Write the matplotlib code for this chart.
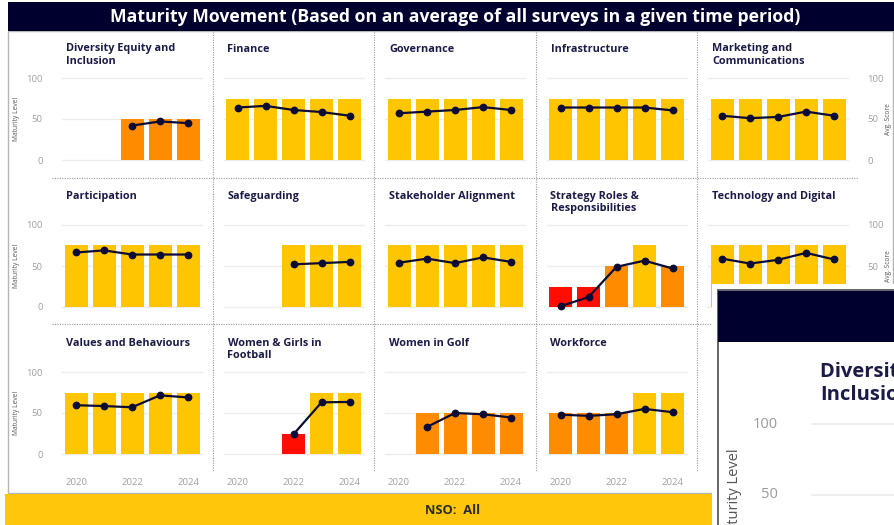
import numpy as np
import matplotlib.pyplot as plt
from matplotlib.patches import Rectangle

plt.rcParams['font.family'] = ['Open Sans', 'DejaVu Sans']

W, H = 894, 525
nan = np.nan

years = [2020, 2021, 2022, 2023, 2024]
year_ticks = [2020, 2022, 2024]

# maturity level (bars) and average score (line) per year
dei_level = [nan, nan, 50, 50, 50]
dei_score = [nan, nan, 42, 47, 45]
finance_level = [75, 75, 75, 75, 75]
finance_score = [64, 66, 61, 58.5, 54]
governance_level = [75, 75, 75, 75, 75]
governance_score = [57, 59, 61, 64.5, 61]
infrastructure_level = [75, 75, 75, 75, 75]
infrastructure_score = [64, 64, 64, 64, 60.5]
marketing_level = [75, 75, 75, 75, 75]
marketing_score = [54, 51, 52.5, 59, 54]
participation_level = [75, 75, 75, 75, 75]
participation_score = [66.5, 69, 64, 64, 64]
safeguarding_level = [nan, nan, 75, 75, 75]
safeguarding_score = [nan, nan, 52, 53.5, 55]
stakeholder_level = [75, 75, 75, 75, 75]
stakeholder_score = [54, 59, 53.5, 60.5, 55]
strategy_level = [25, 25, 50, 75, 50]
strategy_score = [1, 12, 49, 56.5, 47]
technology_level = [75, 75, 75, 75, 75]
technology_score = [59, 53, 57.5, 66, 58]
values_level = [75, 75, 75, 75, 75]
values_score = [59.5, 58.5, 57, 71.5, 69]
wgf_level = [nan, nan, 25, 75, 75]
wgf_score = [nan, nan, 24, 63, 63.5]
golf_level = [nan, 50, 50, 50, 50]
golf_score = [nan, 33, 50, 48.5, 44.5]
workforce_level = [50, 50, 50, 75, 75]
workforce_score = [48, 46.5, 48.5, 55, 51]

panels = [
    ("Diversity Equity and\nInclusion", dei_level, dei_score),
    ("Finance", finance_level, finance_score),
    ("Governance", governance_level, governance_score),
    ("Infrastructure", infrastructure_level, infrastructure_score),
    ("Marketing and\nCommunications", marketing_level, marketing_score),
    ("Participation", participation_level, participation_score),
    ("Safeguarding", safeguarding_level, safeguarding_score),
    ("Stakeholder Alignment", stakeholder_level, stakeholder_score),
    ("Strategy Roles &\nResponsibilities", strategy_level, strategy_score),
    ("Technology and Digital", technology_level, technology_score),
    ("Values and Behaviours", values_level, values_score),
    ("Women & Girls in\nFootball", wgf_level, wgf_score),
    ("Women in Golf", golf_level, golf_score),
    ("Workforce", workforce_level, workforce_score),
]

level_colors = {25: '#FF0D00', 50: '#FF8C00', 75: '#FFC600'}
navy = '#00002E'
title_color = '#1B1B48'
line_color = '#0B0B35'

fig = plt.figure(figsize=(W / 100, H / 100), dpi=100)

# background layer in pixel coordinates
bg = fig.add_axes([0, 0, 1, 1], zorder=-1)
bg.set_xlim(0, W)
bg.set_ylim(H, 0)
bg.axis('off')

bg.add_patch(Rectangle((8, 31), 885, 462, facecolor='white', edgecolor='#b5b5b5', lw=1))
bg.add_patch(Rectangle((8, 2), 886, 29, facecolor=navy, edgecolor='none'))
bg.text(455, 17, "Maturity Movement (Based on an average of all surveys in a given time period)",
        color='white', fontsize=12.7, weight='bold', ha='center', va='center')
bg.add_patch(Rectangle((5, 494), 710, 31, facecolor='#FFC60B', edgecolor='none'))
bg.text(453, 511, "NSO:  All", color='#2a2a2a', fontsize=9.3, weight='bold', ha='center', va='center')

# dotted separators between the small multiples
for x in [212.5, 374, 535.5, 697]:
    bg.plot([x, x], [32, 472], color='#9a9a9a', lw=0.8, ls=(0, (1, 1.2)))
for y in [178, 324]:
    bg.plot([52, 858], [y, y], color='#9a9a9a', lw=0.8, ls=(0, (1, 1.2)))

x_pos = np.arange(len(years))
for i, (title, level, score) in enumerate(panels):
    r, c = divmod(i, 5)
    left = 62 + 161.5 * c
    top = 78 + 147 * r
    ax = fig.add_axes([left / W, 1 - (top + 82) / H, 140 / W, 82 / H])
    ax.patch.set_visible(False)
    for s in ax.spines.values():
        s.set_visible(False)
    ax.set_xlim(-0.5, 4.5)
    ax.set_ylim(0, 100)
    for g in (0, 50, 100):
        ax.axhline(g, color='#ededed', lw=1, zorder=0, clip_on=False)

    ax.tick_params(length=0, colors='#a0a0a0', labelsize=6.8)
    ax.set_yticks([0, 50, 100])
    ax.set_xticks([0, 2, 4], [str(y) for y in year_ticks])
    ax.tick_params(axis='x', labelbottom=(r == 2), pad=17)
    if c == 0:
        ax.tick_params(axis='y', labelleft=True, pad=14)
        bg.text(17, top + 41, "Maturity Level", rotation=90, fontsize=4.8,
                color='#555555', ha='center', va='center')
    elif c == 4:
        ax.tick_params(axis='y', labelleft=False, labelright=True, pad=14)
        bg.text(889, top + 41, "Avg. Score", rotation=90, fontsize=4.8,
                color='#555555', ha='center', va='center')
    else:
        ax.tick_params(axis='y', labelleft=False)

    colors = [level_colors.get(v, 'none') for v in level]
    ax.bar(x_pos, np.nan_to_num(level), width=23 / 28, color=colors, zorder=1)
    ax.plot(x_pos, score, color=line_color, lw=1.6, marker='o', ms=4.6,
            zorder=3, clip_on=False)
    for j, line in enumerate(title.split('\n')):
        bg.text(left + 4, top - 29 + 13 * j, line, fontsize=7.8, weight='bold',
                color=title_color, ha='left', va='center')

# first year label of the last (empty) cell, mostly hidden by the pop-up
bg.text(708 + 14, 480, "2020", fontsize=6.8, color='#a0a0a0', ha='center', va='center')

# detail pop-up window laid over the lower right corner
pop = fig.add_axes([0, 0, 1, 1], zorder=10)
pop.set_xlim(0, W)
pop.set_ylim(H, 0)
pop.axis('off')
pop.add_patch(Rectangle((712, 284), 190, 250, facecolor='white', edgecolor='none'))
pop.add_patch(Rectangle((717.5, 290), 185, 240, facecolor='white', edgecolor='#4a4a55', lw=1.2))
pop.add_patch(Rectangle((718, 290.5), 185, 51, facecolor=navy, edgecolor='none'))
for y in (424, 495):
    pop.plot([812, 894], [y, y], color='#ececec', lw=1.2)
pop.text(778, 424, "100", fontsize=10.5, color='#9a9a9a', ha='right', va='center')
pop.text(778, 495, "50", fontsize=10.5, color='#9a9a9a', ha='right', va='center')
pop.text(820, 372, "Diversity Equity and", fontsize=14.5, weight='bold', color=title_color,
         ha='left', va='center')
pop.text(820, 395, "Inclusion", fontsize=14.5, weight='bold', color=title_color,
         ha='left', va='center')
pop.text(735, 448, "Maturity Level", rotation=90, fontsize=10.5, color='#555555',
         ha='center', va='top')

fig.savefig('out.png', dpi=100)
